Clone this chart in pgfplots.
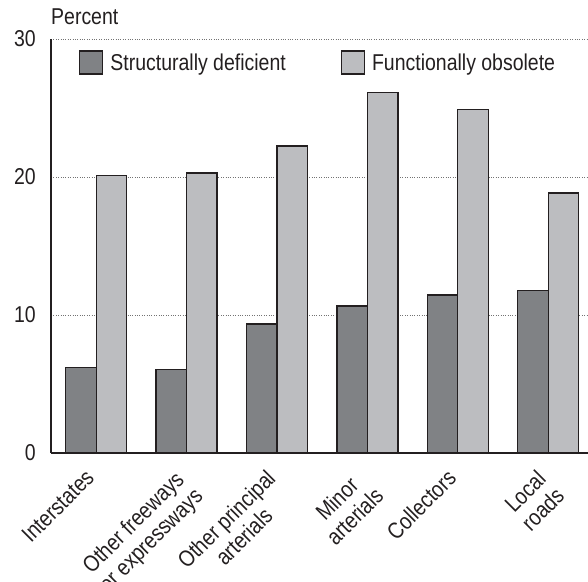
\documentclass[border=0pt]{standalone}
\usepackage{fontspec}
\setmainfont{Liberation Sans}[FakeStretch=0.85]
\usepackage{pgfplots}
\pgfplotsset{compat=1.18}

\definecolor{darkbar}{HTML}{808285}
\definecolor{lightbar}{HTML}{BCBDC0}
\definecolor{ink}{HTML}{231F20}

\pgfplotsset{
  sqlegend/.style={legend image code/.code={
      \draw[##1] (0bp,-11.5bp) rectangle (23bp,11.5bp);}},
}

\begin{document}
\begin{tikzpicture}
\begin{axis}[
    name=ax,
    at={(0,0)}, anchor=south west,
    scale only axis, width=537bp, height=414bp,
    ybar=0pt, bar width=30.5bp,
    xmin=-0.5, xmax=5.44, ymin=0, ymax=30,
    axis x line*=bottom, axis y line*=left,
    axis line style={ink, line width=2.2bp, -},
    major tick length=0pt,
    ytick={0,10,20,30},
    xtick={0,...,5},
    xticklabels={Interstates, {Other freeways\\or expressways}, {Other principal\\arterials},
                 {Minor\\arterials}, Collectors, {Local\\roads}},
    ymajorgrids,
    grid style={dotted, black!55, line width=0.7bp},
    tick label style={font=\fontsize{23}{25}\selectfont, text=ink},
    /pgf/number format/assume math mode=true,
    y tick label style={anchor=east, inner sep=0pt, xshift=-15bp},
    x tick label style={yshift=-15bp, xshift=-12bp, rotate=45, anchor=north east,
                        align=center, inner sep=0pt},
    legend columns=2,
    legend style={at={(rel axis cs:0.052,0.973)}, anchor=north west, draw=none, fill=none,
                  inner sep=0pt, font=\fontsize{23}{26}\selectfont, text=ink,
                  nodes={inner xsep=7bp, inner ysep=0pt},
                  /tikz/every even column/.append style={column sep=48bp}},
]
\addplot[fill=darkbar, draw=ink, line width=1.3bp, sqlegend] coordinates {
    (0,6.2) (1,6.05) (2,9.35) (3,10.65) (4,11.45) (5,11.8)};
\addlegendentry{Structurally deficient}
\addplot[fill=lightbar, draw=ink, line width=1.3bp, sqlegend] coordinates {
    (0,20.1) (1,20.3) (2,22.25) (3,26.1) (4,24.9) (5,18.85)};
\addlegendentry{Functionally obsolete}
\end{axis}
\node[anchor=base west, font=\fontsize{23}{26}\selectfont, text=ink, inner sep=0pt]
    at ([yshift=14bp]ax.north west) {Percent};
\pgfresetboundingbox
\path[use as bounding box] (-51bp,-129bp) rectangle (537bp,453bp);
\end{tikzpicture}
\end{document}
